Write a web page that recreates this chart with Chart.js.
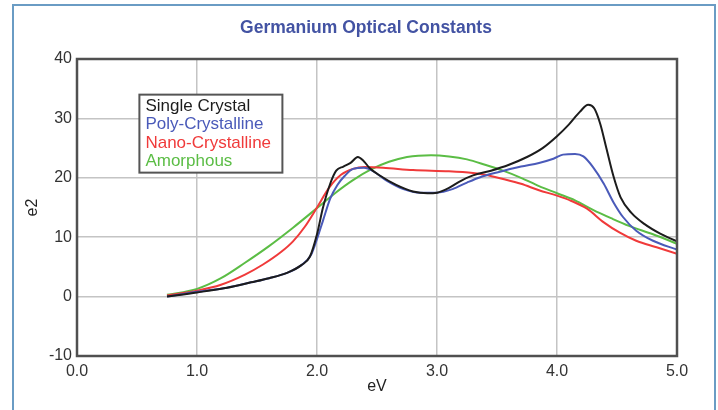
<!DOCTYPE html>
<html>
<head>
<meta charset="utf-8">
<title>Germanium Optical Constants</title>
<script src="https://cdn.jsdelivr.net/npm/chart.js@4"></script>
<style>
    html, body { margin: 0; padding: 0; background: #fff; }
    canvas { display: block; }
</style>
</head>
<body>
<canvas id="opticalChart" width="718" height="410"></canvas>
<script>
// e2 spectra for germanium samples, photon energy in eV
const singleEv = [0.75, 1.0, 1.25, 1.45, 1.6, 1.75, 1.87, 1.94, 2.0, 2.05, 2.11, 2.16, 2.22, 2.28, 2.34, 2.39, 2.44, 2.53, 2.66, 2.8, 2.92, 3.0, 3.1, 3.2, 3.3, 3.45, 3.6, 3.75, 3.88, 4.0, 4.1, 4.19, 4.26, 4.31, 4.36, 4.41, 4.47, 4.53, 4.62, 4.73, 4.86, 5.0];
const singleE2 = [0.0, 0.7, 1.5, 2.4, 3.1, 4.0, 5.3, 6.7, 10.5, 15.0, 19.0, 21.2, 21.9, 22.5, 23.5, 22.8, 21.6, 20.3, 18.8, 17.7, 17.4, 17.5, 18.3, 19.5, 20.4, 21.2, 22.2, 23.5, 25.0, 27.0, 29.0, 31.1, 32.3, 31.7, 29.1, 25.1, 20.3, 16.7, 14.1, 12.2, 10.6, 9.3];

const polyEv = [0.75, 1.0, 1.25, 1.45, 1.6, 1.75, 1.87, 1.95, 2.0, 2.05, 2.11, 2.17, 2.23, 2.3, 2.39, 2.47, 2.58, 2.72, 2.86, 3.0, 3.13, 3.25, 3.36, 3.5, 3.7, 3.85, 3.97, 4.05, 4.15, 4.22, 4.3, 4.39, 4.47, 4.55, 4.66, 4.8, 5.0];
const polyE2 = [0.0, 0.8, 1.5, 2.4, 3.1, 4.0, 5.3, 7.0, 9.7, 12.8, 16.5, 18.8, 20.3, 21.5, 21.7, 21.1, 19.5, 18.1, 17.5, 17.5, 18.1, 19.2, 20.1, 20.9, 21.9, 22.5, 23.2, 23.9, 24.0, 23.6, 21.8, 19.0, 15.9, 13.4, 11.1, 9.4, 7.9];

const nanoEv = [0.75, 1.0, 1.2, 1.4, 1.55, 1.7, 1.8, 1.9, 2.0, 2.1, 2.2, 2.3, 2.4, 2.55, 2.8, 3.1, 3.3, 3.4, 3.55, 3.7, 3.85, 4.0, 4.12, 4.25, 4.39, 4.52, 4.66, 4.83, 5.0];
const nanoE2 = [0.2, 1.0, 2.0, 3.7, 5.4, 7.5, 9.3, 11.8, 15.0, 18.3, 20.5, 21.5, 21.8, 21.7, 21.3, 21.1, 20.8, 20.5, 19.8, 19.0, 17.9, 17.0, 16.1, 14.8, 12.5, 10.8, 9.4, 8.3, 7.2];

const amorphEv = [0.75, 1.0, 1.2, 1.4, 1.6, 1.8, 2.0, 2.15, 2.3, 2.45, 2.6, 2.75, 2.95, 3.1, 3.25, 3.4, 3.55, 3.7, 3.85, 4.0, 4.15, 4.3, 4.45, 4.6, 4.8, 5.0];
const amorphE2 = [0.3, 1.3, 3.1, 5.7, 8.5, 11.6, 14.9, 17.4, 19.6, 21.4, 22.7, 23.5, 23.8, 23.6, 23.1, 22.2, 21.2, 20.0, 18.6, 17.4, 16.2, 14.6, 13.2, 11.9, 10.5, 8.9];

const seriesNames = ['Single Crystal', 'Poly-Crystalline', 'Nano-Crystalline', 'Amorphous'];
const seriesColors = ['#1c1c1c', '#4a5ab9', '#f03a3a', '#5bbd45'];

const xTicks = [0, 1, 2, 3, 4, 5];
const yTicks = [-10, 0, 10, 20, 30, 40];

const FONT = '"Liberation Sans", Arial, sans-serif';

const toPoints = (xs, ys) => xs.map((x, i) => ({ x: x, y: ys[i] }));

const curves = [
    toPoints(singleEv, singleE2),
    toPoints(polyEv, polyE2),
    toPoints(nanoEv, nanoE2),
    toPoints(amorphEv, amorphE2)
];

// outer frame, heading, plot box and in-plot legend
const decorations = {
    id: 'decorations',
    beforeDraw(chart) {
        const ctx = chart.ctx;
        ctx.save();
        ctx.strokeStyle = '#6a9cc4';
        ctx.lineWidth = 2;
        ctx.beginPath();
        ctx.moveTo(13, 420);
        ctx.lineTo(13, 5);
        ctx.lineTo(715, 5);
        ctx.lineTo(715, 420);
        ctx.stroke();

        ctx.fillStyle = '#4353a3';
        ctx.font = 'bold 17.5px ' + FONT;
        ctx.textAlign = 'center';
        ctx.textBaseline = 'middle';
        ctx.fillText('Germanium Optical Constants', 366, 28);
        ctx.restore();
    },
    afterDatasetsDraw(chart) {
        const ctx = chart.ctx;
        const a = chart.chartArea;
        ctx.save();
        ctx.strokeStyle = '#505050';
        ctx.lineWidth = 2.5;
        ctx.strokeRect(a.left, a.top, a.right - a.left, a.bottom - a.top);

        // legend box sits over the upper-left of the plot
        const bx = chart.scales.x.getPixelForValue(0.52);
        const by = chart.scales.y.getPixelForValue(34.0);
        const bw = 143, bh = 78;
        ctx.fillStyle = '#fff';
        ctx.fillRect(bx, by, bw, bh);
        ctx.strokeStyle = '#555';
        ctx.lineWidth = 2;
        ctx.strokeRect(bx, by, bw, bh);

        ctx.font = '17px ' + FONT;
        ctx.textAlign = 'left';
        ctx.textBaseline = 'middle';
        chart.data.datasets.forEach((ds, i) => {
            ctx.fillStyle = ds.borderColor;
            ctx.fillText(ds.label, bx + 6, by + 11.5 + i * 18.5);
        });
        ctx.restore();
    }
};

new Chart(document.getElementById('opticalChart'), {
    type: 'line',
    data: {
        datasets: curves.map((pts, i) => ({
            label: seriesNames[i],
            data: pts,
            borderColor: seriesColors[i],
            backgroundColor: seriesColors[i],
            borderWidth: 2,
            pointRadius: 0,
            fill: false,
            cubicInterpolationMode: 'monotone'
        }))
    },
    options: {
        responsive: false,
        animation: false,
        layout: { padding: { top: 59, left: 14, right: 41, bottom: 0 } },
        plugins: {
            legend: { display: false },
            title: { display: false },
            tooltip: { enabled: false }
        },
        scales: {
            x: {
                type: 'linear',
                min: 0,
                max: 5,
                afterFit: (scale) => { scale.height = 54; },
                afterBuildTicks: (scale) => { scale.ticks = xTicks.map(v => ({ value: v })); },
                grid: { color: '#c4c4c4', lineWidth: 1.5, drawTicks: false },
                border: { display: false },
                ticks: {
                    padding: 6,
                    color: '#333',
                    font: { family: FONT, size: 16 },
                    callback: (v) => Number(v).toFixed(1)
                },
                title: {
                    display: true,
                    text: 'eV',
                    color: '#222',
                    font: { family: FONT, size: 16 },
                    padding: { top: 0, bottom: 14 }
                }
            },
            y: {
                type: 'linear',
                min: -10,
                max: 40,
                afterFit: (scale) => { scale.width = 63; },
                afterBuildTicks: (scale) => { scale.ticks = yTicks.map(v => ({ value: v })); },
                grid: { color: '#c4c4c4', lineWidth: 1.5, drawTicks: false },
                border: { display: false },
                ticks: {
                    padding: 5,
                    color: '#333',
                    font: { family: FONT, size: 16 }
                },
                title: {
                    display: true,
                    text: 'e2',
                    color: '#222',
                    font: { family: FONT, size: 16 },
                    padding: { top: 9, bottom: 0 }
                }
            }
        }
    },
    plugins: [decorations]
});
</script>
</body>
</html>
